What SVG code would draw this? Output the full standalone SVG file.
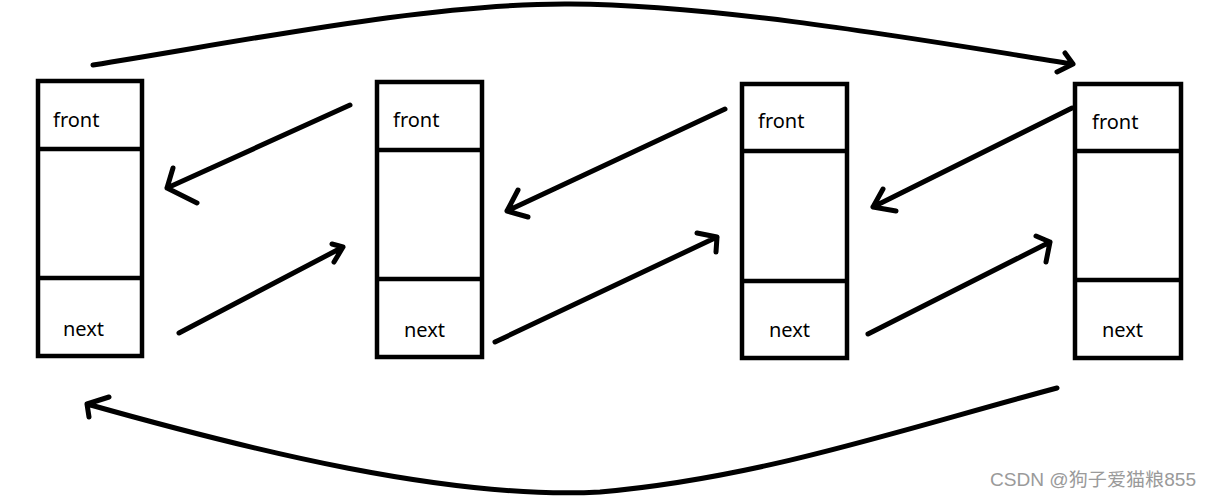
<svg xmlns="http://www.w3.org/2000/svg" width="1212" height="499" viewBox="0 0 1212 499">
<style>
.box{fill:#fff;stroke:#000;stroke-width:4.5}
.div{stroke:#000;stroke-width:4.5}
.lbl{font-family:"Noto Sans","Open Sans",sans-serif;font-size:20px;fill:#000}
.ln{fill:none;stroke:#000;stroke-width:5;stroke-linecap:round;stroke-linejoin:round}
.wm{font-family:"Liberation Sans","Noto Sans CJK SC",sans-serif;font-size:18px;fill:#9a9a9a}
</style>
<rect width="1212" height="499" fill="#fff"/>
<g id="node1">
<rect class="box" x="38" y="81" width="104" height="275"/>
<line class="div" x1="38" y1="149" x2="142" y2="149"/>
<line class="div" x1="38" y1="278" x2="142" y2="278"/>
<text class="lbl" x="53" y="127">front</text>
<text class="lbl" x="63" y="336">next</text>
</g>
<g id="node2">
<rect class="box" x="377" y="82" width="105" height="275"/>
<line class="div" x1="377" y1="150" x2="482" y2="150"/>
<line class="div" x1="377" y1="279" x2="482" y2="279"/>
<text class="lbl" x="393" y="127">front</text>
<text class="lbl" x="404" y="337">next</text>
</g>
<g id="node3">
<rect class="box" x="742" y="84" width="105" height="274"/>
<line class="div" x1="742" y1="151" x2="847" y2="151"/>
<line class="div" x1="742" y1="281" x2="847" y2="281"/>
<text class="lbl" x="758" y="128">front</text>
<text class="lbl" x="769" y="337">next</text>
</g>
<g id="node4">
<rect class="box" x="1075" y="84" width="106" height="274"/>
<line class="div" x1="1075" y1="151" x2="1181" y2="151"/>
<line class="div" x1="1075" y1="280" x2="1181" y2="280"/>
<text class="lbl" x="1092" y="129">front</text>
<text class="lbl" x="1102" y="337">next</text>
</g>
<g id="connectors">
<path class="ln" d="M350,105 L167,188 M173,168 L167,188 L197,203"/>
<path class="ln" d="M179,333 L343,247 M332,244 L343,247 L334,262"/>
<path class="ln" d="M725,109 L507,211 M518,190 L507,211 L528,217"/>
<path class="ln" d="M495,342 L717,237 M697,233 L717,237 L716,252"/>
<path class="ln" d="M1072,108 L873,207 M883,189 L873,207 L896,211"/>
<path class="ln" d="M868,334 L1050,242 M1036,236 L1050,242 L1046,262"/>
<path class="ln" d="M93,65 C250,40 430,3 570,4 C730,5 950,45 1073,64 M1065,53 L1073,64 L1057,72"/>
<path class="ln" d="M1057,388 C900,430 760,478 600,492 C450,500 250,450 87,404 M109,397 L87,404 L89,417"/>
</g>
<text class="wm" x="990" y="486" textLength="206" lengthAdjust="spacingAndGlyphs">CSDN @狗子爱猫粮855</text>
</svg>
